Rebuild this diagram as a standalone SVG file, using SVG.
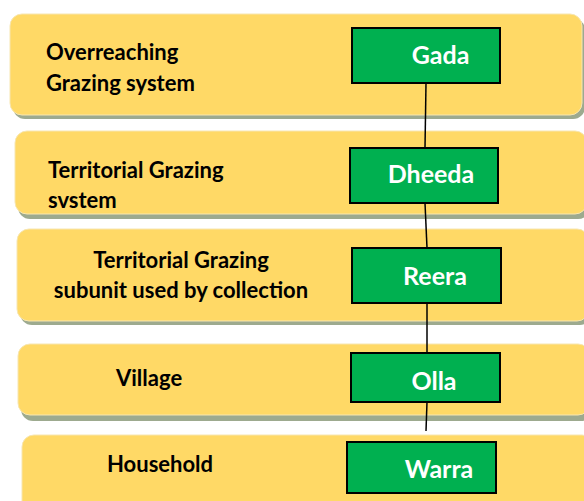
<svg xmlns="http://www.w3.org/2000/svg" width="584" height="501" viewBox="0 0 584 501">
<style>
.band{fill:#FFD966;stroke:#F7E6B0;stroke-width:1}
.shadow{fill:#9DAA8F}
.box{fill:#00B050;stroke:#000;stroke-width:2}
.lbl{font-family:Lato,"Liberation Sans",sans-serif;font-weight:bold;font-size:22px;fill:#000}
.btx{font-family:Lato,"Liberation Sans",sans-serif;font-weight:bold;font-size:25px;fill:#fff;text-anchor:middle}
.con{stroke:#000;stroke-width:1.5;fill:none}
</style>
<rect width="584" height="501" fill="#fff"/>
<g id="level-gada">
<rect class="shadow" x="13" y="18" width="572" height="101" rx="12"/>
<rect class="band" x="10" y="14" width="572" height="101" rx="12"/>
<text class="lbl" x="46" y="60">Overreaching</text>
<text class="lbl" x="46" y="91">Grazing system</text>
</g>
<g id="level-dheeda">
<rect class="shadow" x="18" y="135" width="572" height="84" rx="12"/>
<rect class="band" x="15" y="131" width="572" height="83" rx="12"/>
<text class="lbl" x="48" y="178">Territorial Grazing</text>
<text class="lbl" x="48" y="208">svstem</text>
</g>
<g id="level-reera">
<rect class="shadow" x="20" y="233" width="572" height="92" rx="12"/>
<rect class="band" x="17" y="229" width="572" height="92" rx="12"/>
<text class="lbl" x="181" y="268" text-anchor="middle">Territorial Grazing</text>
<text class="lbl" x="181" y="298" text-anchor="middle">subunit used by collection</text>
</g>
<g id="level-olla">
<rect class="shadow" x="21" y="349" width="572" height="72" rx="12"/>
<rect class="band" x="18" y="344" width="572" height="71" rx="12"/>
<text class="lbl" x="116" y="386">Village</text>
</g>
<g id="level-warra">
<rect class="band" x="22" y="435" width="572" height="90" rx="12"/>
<text class="lbl" x="107" y="472">Household</text>
</g>
<g id="connectors">
<line class="con" x1="426" y1="83" x2="425" y2="148"/>
<line class="con" x1="425" y1="203" x2="427" y2="248"/>
<line class="con" x1="427" y1="303" x2="427" y2="353"/>
<line class="con" x1="427" y1="402" x2="426" y2="431"/>
</g>
<g id="node-gada">
<rect class="box" x="352" y="28" width="148" height="55"/>
<text class="btx" x="440.5" y="64">Gada</text>
</g>
<g id="node-dheeda">
<rect class="box" x="350" y="148" width="148" height="55"/>
<text class="btx" x="431" y="183">Dheeda</text>
</g>
<g id="node-reera">
<rect class="box" x="352" y="248" width="149" height="55"/>
<text class="btx" x="435" y="285">Reera</text>
</g>
<g id="node-olla">
<rect class="box" x="351" y="353" width="149" height="49"/>
<text class="btx" x="434" y="390">Olla</text>
</g>
<g id="node-warra">
<rect class="box" x="347" y="442" width="149" height="51"/>
<text class="btx" x="439" y="478">Warra</text>
</g>
</svg>
